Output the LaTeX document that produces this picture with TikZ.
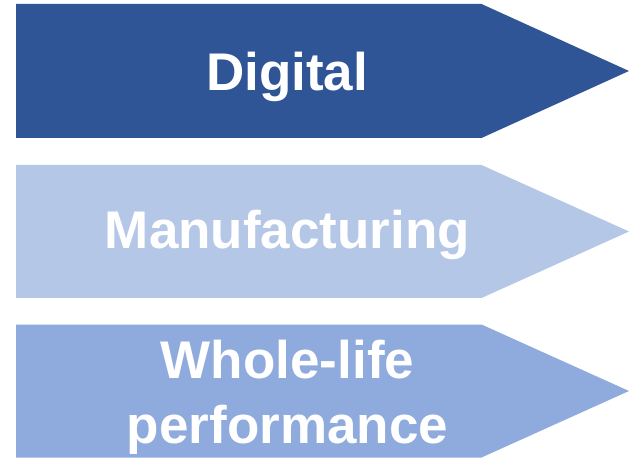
\documentclass[tikz,border=0pt]{standalone}
\usepackage{fontspec}
\setmainfont{Liberation Sans}
\definecolor{darkblue}{HTML}{2F5597}
\definecolor{lightblue}{HTML}{B4C7E7}
\definecolor{midblue}{HTML}{8FAADC}
\begin{document}
\begin{tikzpicture}[x=1pt,y=-1pt,
  arrowshape/.style={draw=none},
  labeltext/.style={text=white,font=\fontsize{53}{65}\selectfont\bfseries,inner sep=0pt,align=center,anchor=base}]
\useasboundingbox (0,0) rectangle (629,462);
\fill[arrowshape,darkblue] (16,4) -- (481.5,4) -- (629,71) -- (481.5,138) -- (16,138) -- cycle;
\fill[arrowshape,lightblue] (16,165) -- (481.5,165) -- (629,231.5) -- (481.5,298) -- (16,298) -- cycle;
\fill[arrowshape,midblue] (16,324.5) -- (481.5,324.5) -- (629,391) -- (481.5,457.5) -- (16,457.5) -- cycle;
\node[labeltext] (t1) at (287,91) {Digital};
\node[labeltext] (t2) at (287.5,249) {Manufacturing};
\node[labeltext] (t3) at (287.5,443) {Whole-life\\performance};
\end{tikzpicture}
\end{document}
